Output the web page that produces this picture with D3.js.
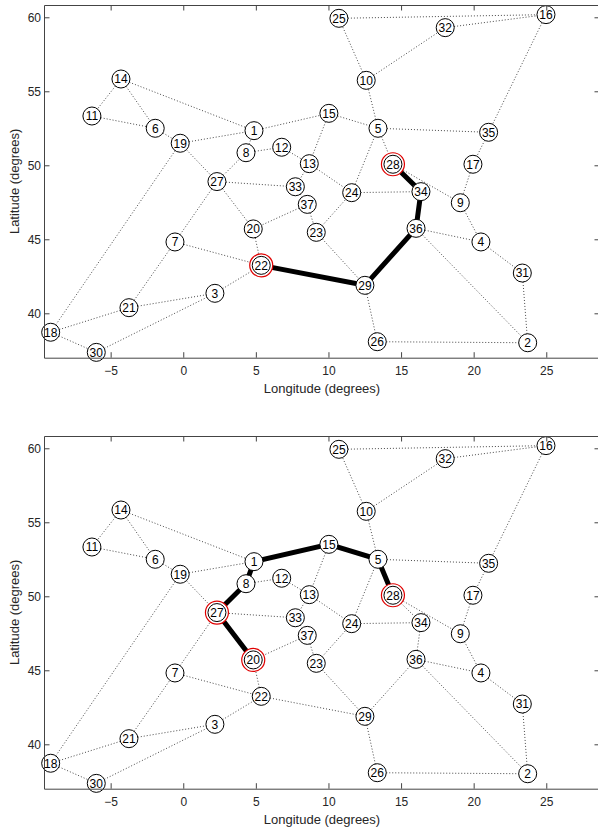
<!DOCTYPE html>
<html>
<head>
<meta charset="utf-8">
<script src="https://cdn.jsdelivr.net/npm/d3@7"></script>
<style>
  body { margin: 0; background: #fff; }
  svg { display: block; font-family: "Liberation Sans", Arial, sans-serif; }
</style>
</head>
<body>
<svg id="chart" width="598" height="831"></svg>
<script>
// node positions (longitude, latitude), index i -> node i+1
const lon = [4.87, 23.72, 2.18, 20.50, 13.41, -1.93, -0.57, 4.32, 19.08, 12.60,
  -6.29, 6.78, 8.68, -4.29, 10.03, 24.98, 19.95, -9.13, -0.21, 4.82,
  -3.74, 5.37, 9.16, 11.60, 10.72, 13.36, 2.32, 14.44, 12.51, -5.99,
  23.35, 18.04, 7.72, 16.37, 21.03, 16.03, 8.54];
const lat = [52.34, 38.01, 41.35, 44.82, 52.50, 52.50, 44.82, 50.85, 47.47, 55.74,
  53.33, 51.22, 50.11, 55.83, 53.51, 60.18, 50.07, 38.72, 51.49, 45.70,
  40.38, 43.24, 45.47, 48.15, 59.93, 38.08, 48.90, 50.07, 41.89, 37.36,
  42.72, 59.30, 48.55, 48.22, 52.23, 45.74, 47.36];

const links = [[14,11],[14,6],[14,1],[11,6],[6,19],[19,1],[19,27],[19,18],[18,21],[18,30],
  [30,3],[21,3],[21,7],[7,27],[7,22],[3,22],[22,20],[22,29],[27,20],[27,8],
  [27,33],[8,1],[8,12],[12,13],[1,15],[15,13],[15,5],[13,24],[13,33],[33,37],
  [37,20],[37,23],[23,24],[23,29],[24,5],[24,34],[5,10],[5,35],[5,28],[10,25],
  [10,32],[25,16],[32,16],[16,35],[35,17],[17,9],[28,34],[28,9],[34,36],[36,29],
  [36,4],[36,2],[9,4],[4,31],[31,2],[29,26],[26,2]];

// routes and highlighted nodes for each panel
const pathTop = [22, 29, 36, 34, 28];
const markTop = [22, 28];
const pathBottom = [20, 27, 8, 1, 15, 5, 28];
const markBottom = [27, 20, 28];

const xTicks = [-5, 0, 5, 10, 15, 20, 25];
const yTicks = [40, 45, 50, 55, 60];
const xLim = [-9.59, 28.7];
const yLim = [37.0, 60.83];

const svg = d3.select('#chart');
const axisColor = '#444';

const nodes = lon.map((d, i) => ({ id: i + 1, lon: d, lat: lat[i] }));

function drawPanel(top, bottom, route, marked) {
  const x = d3.scaleLinear().domain(xLim).range([44, 600]);
  const y = d3.scaleLinear().domain(yLim).range([bottom, top]);
  const g = svg.append('g');

  // dotted links
  g.selectAll('line.link')
    .data(links)
    .enter()
    .append('line')
    .attr('x1', d => x(lon[d[0] - 1]))
    .attr('y1', d => y(lat[d[0] - 1]))
    .attr('x2', d => x(lon[d[1] - 1]))
    .attr('y2', d => y(lat[d[1] - 1]))
    .attr('stroke', '#333')
    .attr('stroke-width', 0.9)
    .attr('stroke-dasharray', '1,2');

  // thick route
  g.append('path')
    .datum(route)
    .attr('d', d3.line().x(d => x(lon[d - 1])).y(d => y(lat[d - 1])))
    .attr('fill', 'none')
    .attr('stroke', '#000')
    .attr('stroke-width', 5);

  // red rings
  g.selectAll('circle.mark')
    .data(marked)
    .enter()
    .append('circle')
    .attr('cx', d => x(lon[d - 1]))
    .attr('cy', d => y(lat[d - 1]))
    .attr('r', 11.5)
    .attr('fill', '#fff')
    .attr('stroke', '#e00000')
    .attr('stroke-width', 1.2);

  // node circles
  g.selectAll('circle.node')
    .data(nodes)
    .enter()
    .append('circle')
    .attr('cx', d => x(d.lon))
    .attr('cy', d => y(d.lat))
    .attr('r', 9)
    .attr('fill', '#fff')
    .attr('stroke', '#000')
    .attr('stroke-width', 1);

  g.selectAll('text.node')
    .data(nodes)
    .enter()
    .append('text')
    .attr('x', d => x(d.lon))
    .attr('y', d => y(d.lat))
    .attr('dy', '0.36em')
    .attr('text-anchor', 'middle')
    .attr('font-size', 12)
    .attr('fill', '#000')
    .text(d => d.id);

  // axes, ticks inward
  const styleAxis = sel => {
    sel.select('.domain').attr('stroke', axisColor);
    sel.selectAll('.tick line').attr('stroke', axisColor);
    sel.selectAll('.tick text').attr('fill', '#262626').attr('font-size', 12);
  };

  g.append('g')
    .attr('transform', `translate(0,${bottom})`)
    .call(d3.axisBottom(x).tickValues(xTicks).tickSizeInner(-5.5).tickSizeOuter(0).tickPadding(9))
    .call(styleAxis);
  g.append('g')
    .attr('transform', `translate(0,${top})`)
    .call(d3.axisTop(x).tickValues(xTicks).tickSizeInner(-5.5).tickSizeOuter(0).tickFormat(''))
    .call(styleAxis);
  g.append('g')
    .attr('transform', 'translate(44,0)')
    .call(d3.axisLeft(y).tickValues(yTicks).tickSizeInner(-5.5).tickSizeOuter(0).tickPadding(3))
    .call(styleAxis);
  g.append('g')
    .attr('transform', 'translate(600,0)')
    .call(d3.axisRight(y).tickValues(yTicks).tickSizeInner(-5.5).tickSizeOuter(0).tickFormat(''))
    .call(styleAxis);

  g.selectAll('.domain').attr('fill', 'none');

  // axis labels
  g.append('text')
    .attr('x', 322)
    .attr('y', bottom + 35)
    .attr('text-anchor', 'middle')
    .attr('font-size', 13)
    .attr('fill', '#262626')
    .text('Longitude (degrees)');
  g.append('text')
    .attr('transform', `translate(19,${(top + bottom) / 2}) rotate(-90)`)
    .attr('text-anchor', 'middle')
    .attr('font-size', 13)
    .attr('fill', '#262626')
    .text('Latitude (degrees)');
}

drawPanel(5, 357.7, pathTop, markTop);
drawPanel(436, 788.7, pathBottom, markBottom);
</script>
</body>
</html>
